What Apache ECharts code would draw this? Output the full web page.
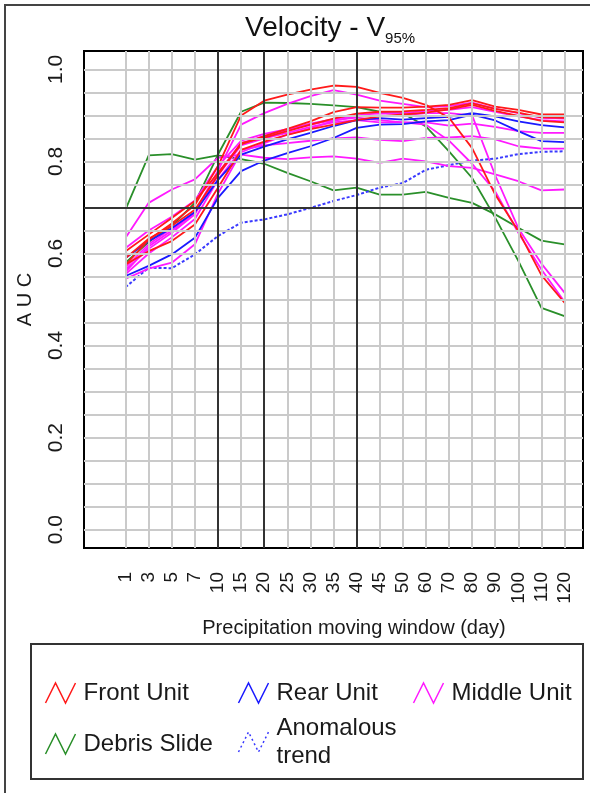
<!DOCTYPE html>
<html><head><meta charset="utf-8">
<script src="https://cdn.jsdelivr.net/npm/echarts@6/dist/echarts.min.js"></script>
<style>html,body{margin:0;padding:0;background:#fff}#c{width:590px;height:793px}</style>
</head><body><div id="c"></div>
<script>
// ---- data ----
const categories = ['1','3','5','7','10','15','20','25','30','35','40','45','50','60','70','80','90','100','110','120'];
const yTickValues = [0, 0.2, 0.4, 0.6, 0.8, 1.0];
const yGridValues = [0,0.05,0.1,0.15,0.2,0.25,0.3,0.35,0.4,0.45,0.5,0.55,0.6,0.65,0.7,0.75,0.8,0.85,0.9,0.95,1.0];
const refXCategories = ['10','20','40'];
const refYValues = [0.7];

const frontA = [0.575,0.630,0.665,0.705,0.790,0.900,0.932,0.945,0.956,0.965,0.962,0.949,0.938,0.923,0.895,0.829,0.728,0.649,0.553,0.493];
const frontB = [0.605,0.641,0.677,0.714,0.775,0.837,0.855,0.871,0.887,0.907,0.918,0.917,0.917,0.919,0.923,0.933,0.919,0.912,0.902,0.902];
const frontC = [0.576,0.605,0.627,0.663,0.743,0.825,0.843,0.858,0.870,0.880,0.890,0.898,0.902,0.906,0.913,0.923,0.910,0.899,0.888,0.885];
const frontD = [0.590,0.632,0.660,0.695,0.770,0.840,0.852,0.866,0.880,0.893,0.904,0.908,0.909,0.912,0.916,0.926,0.914,0.906,0.896,0.895];

const rearA = [0.551,0.573,0.598,0.634,0.721,0.779,0.802,0.818,0.833,0.851,0.873,0.880,0.881,0.887,0.890,0.902,0.889,0.866,0.844,0.842];
const rearB = [0.590,0.627,0.655,0.690,0.760,0.815,0.832,0.848,0.862,0.877,0.890,0.894,0.891,0.894,0.897,0.905,0.898,0.887,0.879,0.874];

const middleA = [0.634,0.710,0.739,0.761,0.808,0.815,0.808,0.805,0.809,0.811,0.806,0.797,0.806,0.800,0.790,0.786,0.772,0.757,0.737,0.739];
const middleB = [0.570,0.620,0.655,0.690,0.780,0.880,0.905,0.925,0.942,0.955,0.945,0.932,0.925,0.918,0.920,0.928,0.915,0.905,0.895,0.893];
const middleC = [0.560,0.615,0.650,0.688,0.770,0.835,0.850,0.862,0.875,0.885,0.890,0.885,0.885,0.885,0.878,0.882,0.875,0.866,0.862,0.862];
const middleD = [0.555,0.600,0.635,0.675,0.760,0.825,0.835,0.840,0.845,0.850,0.852,0.847,0.844,0.851,0.852,0.855,0.848,0.833,0.828,0.828];
const middleE = [0.545,0.567,0.580,0.620,0.730,0.820,0.840,0.858,0.872,0.888,0.898,0.900,0.900,0.905,0.905,0.900,0.770,0.655,0.578,0.515];
const middleF = [0.565,0.610,0.645,0.685,0.775,0.840,0.855,0.868,0.880,0.890,0.895,0.890,0.885,0.880,0.845,0.795,0.735,0.645,0.565,0.495];
const middleG = [0.612,0.650,0.680,0.715,0.790,0.845,0.860,0.870,0.882,0.892,0.900,0.905,0.905,0.910,0.912,0.918,0.908,0.898,0.890,0.887];

const debrisA = [0.696,0.813,0.816,0.804,0.813,0.805,0.795,0.775,0.757,0.737,0.743,0.728,0.728,0.734,0.721,0.710,0.685,0.656,0.628,0.620];
const debrisB = [0.580,0.625,0.660,0.710,0.815,0.908,0.928,0.927,0.925,0.922,0.918,0.908,0.905,0.876,0.822,0.764,0.678,0.584,0.482,0.464];

const anomalous = [0.527,0.569,0.568,0.598,0.638,0.667,0.674,0.685,0.699,0.714,0.727,0.743,0.753,0.782,0.792,0.802,0.806,0.816,0.821,0.822];

// ---- styling ----
const COL = {front:'#ff1a1a', rear:'#1a1aff', middle:'#ff1aff', debris:'#2a8f2a', anom:'#3a3aff'};
const FONT = 'Liberation Sans, Arial, sans-serif';
const catPos = categories.map((c, i) => i + 1);

function lineSeries(name, vals, color, extra) {
  return Object.assign({
    type: 'line', name: name,
    data: vals.map((v, i) => [catPos[i], v]),
    symbol: 'none', showSymbol: false, silent: true, z: 3,
    lineStyle: {color: color, width: 1.8},
    itemStyle: {color: color}
  }, extra || {});
}

const series = [
  {type:'line', name:'_grid', data:[], z:1, silent:true,
   markLine:{silent:true, symbol:['none','none'], label:{show:false}, animation:false,
     lineStyle:{color:'#cacaca', width:2, type:'solid'},
     emphasis:{disabled:true},
     data:[...catPos.map(p => ({xAxis:p})), ...yGridValues.map(v => ({yAxis:v}))]}},
  {type:'line', name:'_ref', data:[], z:2, silent:true,
   markLine:{silent:true, symbol:['none','none'], label:{show:false}, animation:false,
     lineStyle:{color:'#000', width:1.5, type:'solid'},
     emphasis:{disabled:true},
     data:[...refXCategories.map(c => ({xAxis: categories.indexOf(c) + 1})), ...refYValues.map(v => ({yAxis:v}))]}},
  lineSeries('Debris Slide', debrisA, COL.debris),
  lineSeries('Debris Slide', debrisB, COL.debris),
  lineSeries('Anomalous trend', anomalous, COL.anom, {lineStyle:{color:COL.anom, width:2, type:[3,2]}}),
  lineSeries('Middle Unit', middleA, COL.middle),
  lineSeries('Middle Unit', middleB, COL.middle),
  lineSeries('Middle Unit', middleC, COL.middle),
  lineSeries('Middle Unit', middleD, COL.middle),
  lineSeries('Middle Unit', middleE, COL.middle),
  lineSeries('Middle Unit', middleF, COL.middle),
  lineSeries('Middle Unit', middleG, COL.middle),
  lineSeries('Rear Unit', rearA, COL.rear),
  lineSeries('Rear Unit', rearB, COL.rear),
  lineSeries('Front Unit', frontA, COL.front),
  lineSeries('Front Unit', frontB, COL.front),
  lineSeries('Front Unit', frontC, COL.front),
  lineSeries('Front Unit', frontD, COL.front)
];

const zig = 'path://M0,20L10,0L20,20L30,0';
function legItem(name, color, dotted) {
  return {name: name, icon: zig,
    itemStyle: {color: 'none', borderColor: color, borderWidth: 1.5, borderType: dotted ? [2,3] : 'solid'}};
}
const legendBase = {orient:'vertical', top:674, itemWidth:36, itemHeight:20, selectedMode:false,
  lineStyle:{opacity:0},
  textStyle:{fontSize:24, lineHeight:28, color:'#1a1a1a', fontFamily:FONT}};

const chart = echarts.init(document.getElementById('c'), null, {renderer:'canvas'});
chart.setOption({
  animation: false,
  backgroundColor: '#fff',
  title: {
    text: '{a|Velocity - V}{b|95%}', left: 245, top: 10, padding: 0,
    textStyle: {fontWeight: 'normal', rich: {
      a: {fontSize: 28, lineHeight: 36, color: '#111', fontFamily: FONT, fontWeight: 'normal'},
      b: {fontSize: 15, lineHeight: 16, color: '#111', fontFamily: FONT, fontWeight: 'normal', verticalAlign: 'bottom'}
    }}
  },
  grid: {left:84, top:51, width:499, height:497, show:true, borderColor:'#000', borderWidth:2, containLabel:false},
  xAxis: {
    type:'value', min:-0.8, max:20.8,
    splitLine:{show:false}, axisLine:{show:false},
    axisTick:{show:true, length:10, customValues:catPos, lineStyle:{color:'#111', width:1.5}},
    axisLabel:{customValues:catPos, rotate:90, margin:24, fontSize:19, color:'#1a1a1a', fontFamily:FONT,
      formatter: v => categories[Math.round(v) - 1]}
  },
  yAxis: {
    type:'value', min:-0.04, max:1.04,
    splitLine:{show:false}, axisLine:{show:false},
    axisTick:{show:true, length:10, customValues:yTickValues, lineStyle:{color:'#111', width:1.5}},
    axisLabel:{customValues:yTickValues, rotate:90, margin:17, fontSize:21, color:'#1a1a1a', fontFamily:FONT,
      formatter: v => v.toFixed(1)},
    name:'A U C', nameLocation:'middle', nameRotate:90, nameGap:49,
    nameTextStyle:{fontSize:20, color:'#1a1a1a', fontFamily:FONT}
  },
  legend: [
    Object.assign({}, legendBase, {left:38, itemGap:23,
      data:[legItem('Front Unit', COL.front), legItem('Debris Slide', COL.debris)]}),
    Object.assign({}, legendBase, {left:231, itemGap:7,
      formatter: n => n === 'Anomalous trend' ? 'Anomalous\ntrend' : n,
      data:[legItem('Rear Unit', COL.rear), legItem('Anomalous trend', COL.anom, true)]}),
    Object.assign({}, legendBase, {left:406, itemGap:23,
      data:[legItem('Middle Unit', COL.middle)]})
  ],
  graphic: [
    {type:'rect', silent:true, z:-10, shape:{x:5, y:5, width:600, height:800},
      style:{fill:'none', stroke:'#444', lineWidth:2}},
    {type:'rect', silent:true, shape:{x:31, y:644, width:552, height:135},
      style:{fill:'none', stroke:'#333', lineWidth:2}},
    {type:'text', silent:true, x:354, y:628,
      style:{text:'Precipitation moving window (day)', fontSize:20, fontFamily:FONT, fill:'#1a1a1a',
        align:'center', verticalAlign:'middle'}}
  ],
  series: series
});
</script></body></html>
